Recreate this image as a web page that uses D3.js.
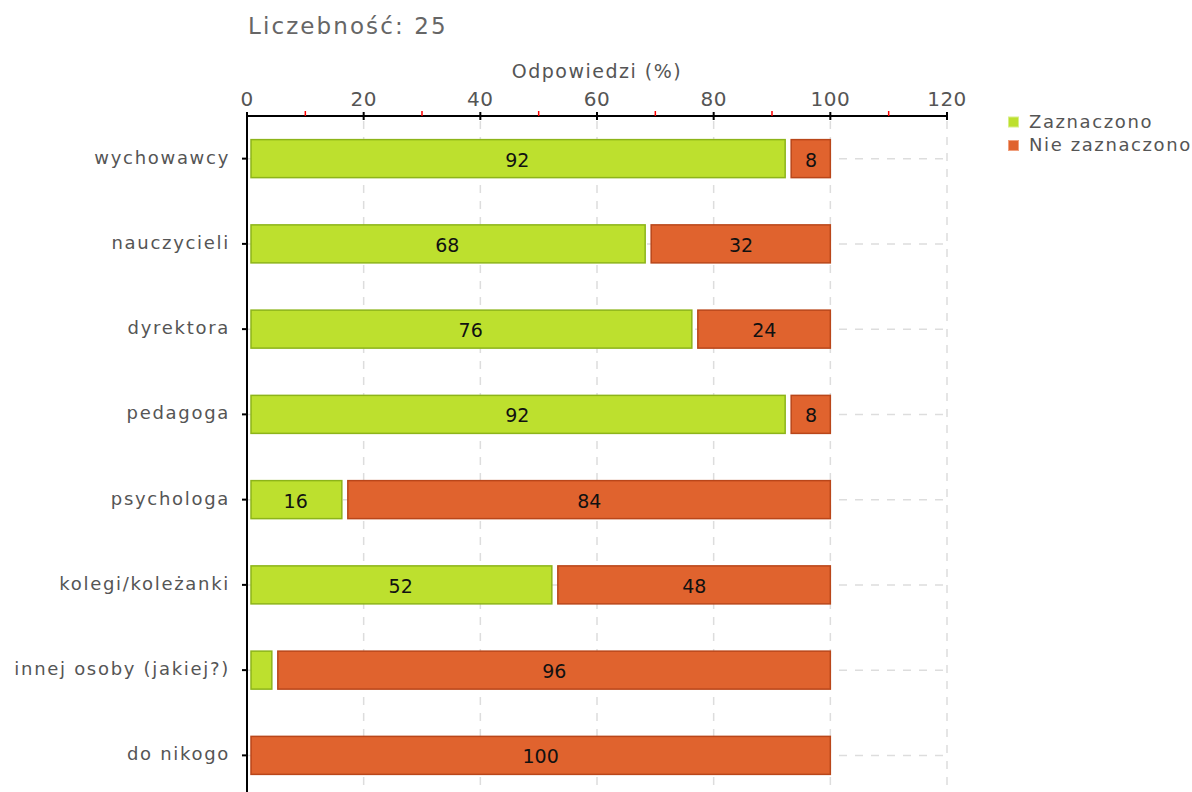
<!DOCTYPE html>
<html>
<head>
<meta charset="utf-8">
<script src="https://d3js.org/d3.v7.min.js"></script>
<style>
  body { margin: 0; background: #fff; }
  svg text { font-family: "DejaVu Sans", sans-serif; }
</style>
</head>
<body>
<svg width="1192" height="792"></svg>
<script>
var categories = ["wychowawcy", "nauczycieli", "dyrektora", "pedagoga", "psychologa",
                  "kolegi/koleżanki", "innej osoby (jakiej?)", "do nikogo"];
var zaznaczono = [92, 68, 76, 92, 16, 52, 4, 0];
var nieZaznaczono = [8, 32, 24, 8, 84, 48, 96, 100];
var seriesNames = ["Zaznaczono", "Nie zaznaczono"];
var xTicks = [0, 20, 40, 60, 80, 100, 120];
var minorTicks = [10, 30, 50, 70, 90, 110];

var svg = d3.select("svg");
var pLeft = 247, pTop = 116, pRight = 947, pBottom = 798;

var x = d3.scaleLinear().domain([0, 120]).range([pLeft, pRight]);
var y = d3.scaleBand().domain(categories).range([pTop, pBottom]);
var barH = 39;

var fills = ["#bde02e", "#e0632e"];
var strokes = ["#8db41a", "#b9461a"];
var legendStrokes = ["#d8ee8a", "#f0a07e"];

// title
svg.append("text")
    .attr("x", 248).attr("y", 34)
    .attr("font-size", 23).attr("letter-spacing", "2.1px")
    .attr("fill", "#666")
    .text("Liczebność: 25");

svg.append("text")
    .attr("x", 597).attr("y", 78)
    .attr("text-anchor", "middle")
    .attr("font-size", 19).attr("letter-spacing", "1.5px")
    .attr("fill", "#555")
    .text("Odpowiedzi (%)");

// grid
var grid = svg.append("g");
grid.selectAll(".vg").data(xTicks.slice(1)).enter().append("line")
    .attr("x1", function(d){return x(d);}).attr("x2", function(d){return x(d);})
    .attr("y1", pTop + 5).attr("y2", 792)
    .attr("stroke", "#ddd").attr("stroke-width", 1.5).attr("stroke-dasharray", "8,8");
grid.selectAll(".hg").data(categories).enter().append("line")
    .attr("x1", pLeft).attr("x2", pRight - 4)
    .attr("y1", function(d){return y(d) + y.bandwidth()/2;})
    .attr("y2", function(d){return y(d) + y.bandwidth()/2;})
    .attr("stroke", "#ddd").attr("stroke-width", 1.5).attr("stroke-dasharray", "8,8");

// bars
var rows = categories.map(function(c, i){
  return {cat: c, segs: [
    {s: 0, v: zaznaczono[i], k: 0},
    {s: zaznaczono[i], v: nieZaznaczono[i], k: 1}
  ]};
});
var row = svg.selectAll(".row").data(rows).enter().append("g")
    .attr("transform", function(d){return "translate(0," + (y(d.cat) + y.bandwidth()/2 - barH/2) + ")";});
var seg = row.selectAll(".seg").data(function(d){return d.segs.filter(function(s){return s.v > 0;});})
    .enter().append("g");
seg.append("rect")
    .attr("x", function(d){return x(d.s) + (d.s === 0 ? 4 : 7.5);})
    .attr("width", function(d){return x(d.s + d.v) - x(d.s) - (d.s === 0 ? 4 : 7.5) + (d.k === 0 ? 1.5 : 0);})
    .attr("y", 0.5).attr("height", barH - 1)
    .attr("fill", function(d){return fills[d.k];})
    .attr("stroke", function(d){return strokes[d.k];})
    .attr("stroke-width", 1.5);
seg.filter(function(d){return d.v >= 8;}).append("text")
    .attr("x", function(d){return (x(d.s) + x(d.s + d.v)) / 2 + (d.s === 0 ? 2 : 4);})
    .attr("y", barH/2 + 8)
    .attr("text-anchor", "middle")
    .attr("font-size", 19)
    .attr("fill", "#111")
    .text(function(d){return d.v;});

// axes
var ax = svg.append("g");
ax.append("line").attr("x1", pLeft).attr("x2", pRight).attr("y1", pTop).attr("y2", pTop)
    .attr("stroke", "#000").attr("stroke-width", 2);
ax.append("line").attr("x1", pLeft).attr("x2", pLeft).attr("y1", pTop).attr("y2", 792)
    .attr("stroke", "#000").attr("stroke-width", 2);
ax.selectAll(".mt").data(xTicks).enter().append("line")
    .attr("x1", function(d){return x(d);}).attr("x2", function(d){return x(d);})
    .attr("y1", pTop - 4).attr("y2", pTop + 4)
    .attr("stroke", "#000").attr("stroke-width", 2);
ax.selectAll(".mn").data(minorTicks).enter().append("line")
    .attr("x1", function(d){return x(d);}).attr("x2", function(d){return x(d);})
    .attr("y1", pTop - 5).attr("y2", pTop)
    .attr("stroke", "#f00").attr("stroke-width", 1.5);
ax.selectAll(".tl").data(xTicks).enter().append("text")
    .attr("x", function(d){return x(d);}).attr("y", 106)
    .attr("text-anchor", "middle")
    .attr("font-size", 20).attr("letter-spacing", "0.5px")
    .attr("fill", "#555")
    .text(function(d){return d;});
ax.selectAll(".yt").data(categories).enter().append("line")
    .attr("x1", pLeft - 5).attr("x2", pLeft)
    .attr("y1", function(d){return y(d) + y.bandwidth()/2;})
    .attr("y2", function(d){return y(d) + y.bandwidth()/2;})
    .attr("stroke", "#000").attr("stroke-width", 2);
ax.selectAll(".yl").data(categories).enter().append("text")
    .attr("x", 230)
    .attr("y", function(d){return y(d) + y.bandwidth()/2 + 5;})
    .attr("text-anchor", "end")
    .attr("font-size", 18).attr("letter-spacing", "1.7px")
    .attr("fill", "#555")
    .text(function(d){return d;});

// legend
var lg = svg.selectAll(".lg").data(seriesNames).enter().append("g")
    .attr("transform", function(d, i){return "translate(1008," + (116.5 + i * 23.5) + ")";});
lg.append("rect").attr("x", 0.5).attr("y", 0.5).attr("width", 10).attr("height", 10)
    .attr("fill", function(d, i){return fills[i];})
    .attr("stroke", function(d, i){return legendStrokes[i];});
lg.append("text").attr("x", 21).attr("y", 11)
    .attr("font-size", 18).attr("letter-spacing", "1.6px")
    .attr("fill", "#555")
    .text(function(d){return d;});
</script>
</body>
</html>
